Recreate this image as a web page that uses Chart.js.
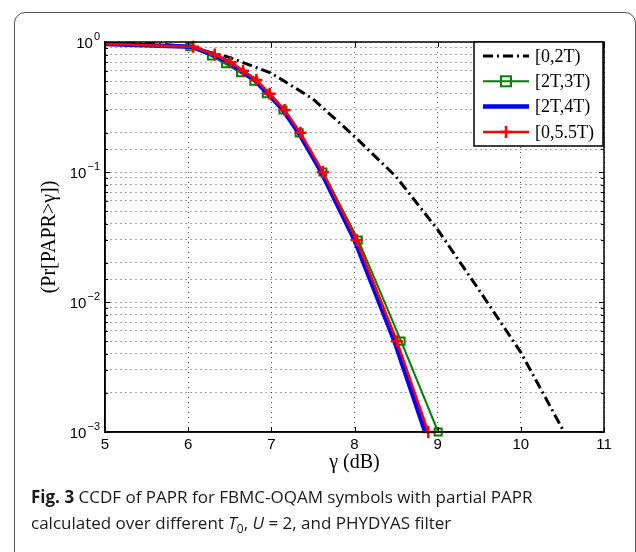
<!DOCTYPE html>
<html>
<head>
<meta charset="utf-8">
<script src="https://cdn.jsdelivr.net/npm/chart.js@4.4.1/dist/chart.umd.min.js"></script>
<style>
  html, body { margin: 0; padding: 0; background: #fff; }
  #wrap { position: relative; width: 636px; height: 552px; overflow: hidden; }
  #frame { position: absolute; left: 14px; top: 12px; width: 620px; height: 620px; border: 1.5px solid #555; border-radius: 11px; }
  #chart { position: absolute; left: 0; top: 0; }
  #caption { position: absolute; left: 31px; top: 484px; font-family: "Open Sans"; font-size: 17px; line-height: 26px; color: #1a1a1a; letter-spacing: 0px; white-space: nowrap; }
</style>
</head>
<body>
<div id="wrap">
  <div id="frame"></div>
  <canvas id="chart" width="636" height="552"></canvas>
  <div id="caption"><b>Fig. 3</b> CCDF of PAPR for FBMC-OQAM symbols with partial PAPR<br>calculated over different <i>T</i><sub style="font-size:12px">0</sub>, <i>U</i> = 2, and PHYDYAS filter</div>
</div>
<script>
// tick labels
const xTickValues = [5, 6, 7, 8, 9, 10, 11];
const yTickValues = [1, 0.1, 0.01, 0.001];
const yTickExps = ["0", "\u22121", "\u22122", "\u22123"];

// series names
const seriesNames = ["[0,2T)", "[2T,3T)", "[2T,4T)", "[0,5.5T)"];

// [0,2T) - black dash-dot
const xA = [5, 5.5, 6, 6.5, 7, 7.5, 8, 8.5, 9, 9.5, 10, 10.52];
const yA = [0.995, 0.985, 0.92, 0.76, 0.575, 0.365, 0.188, 0.092, 0.036, 0.0123, 0.0041, 0.001];

// [2T,3T) - green squares
const xB = [5, 6.02, 6.28, 6.45, 6.63, 6.79, 6.94, 7.14, 7.335, 7.62, 8.045, 8.56, 9.006];
const yB = [0.965, 0.92, 0.78, 0.68, 0.58, 0.50, 0.40, 0.30, 0.20, 0.10, 0.03, 0.005, 0.001];

// [2T,4T) - blue
const xC = [5, 6.04, 6.30, 6.49, 6.64, 6.80, 6.96, 7.14, 7.33, 7.60, 8.0, 8.48, 8.85];
const yC = [0.965, 0.92, 0.80, 0.70, 0.60, 0.51, 0.40, 0.30, 0.20, 0.10, 0.03, 0.005, 0.001];

// [0,5.5T) - red crosses
const xD = [5, 6.06, 6.32, 6.51, 6.66, 6.82, 6.98, 7.16, 7.35, 7.62, 8.025, 8.51, 8.886];
const yD = [0.965, 0.92, 0.80, 0.70, 0.60, 0.51, 0.40, 0.30, 0.20, 0.10, 0.03, 0.005, 0.001];

function pts(xs, ys) {
    return xs.map((x, i) => ({ x: x, y: ys[i] }));
}

function markerSizes(xs, r) {
    return xs.map((x, i) => (i === 0 ? 0 : r));
}

function drawMarker(ctx, kind, x, y, color) {
    ctx.save();
    ctx.setLineDash([]);
    ctx.strokeStyle = color;
    ctx.lineWidth = 2;
    if (kind === "rect") {
        ctx.strokeRect(x - 5, y - 5, 10, 10);
    } else if (kind === "cross") {
        ctx.lineWidth = 2.5;
        ctx.beginPath();
        ctx.moveTo(x - 6, y); ctx.lineTo(x + 6, y);
        ctx.moveTo(x, y - 6); ctx.lineTo(x, y + 6);
        ctx.stroke();
    }
    ctx.restore();
}

const boxPlugin = {
    id: "boxPlugin",
    afterDraw(chart) {
        const ctx = chart.ctx;
        const a = chart.chartArea;
        const xs = chart.scales.x;
        const ys = chart.scales.y;

        ctx.save();
        // inward tick marks
        ctx.strokeStyle = "#000";
        ctx.lineWidth = 1;
        xTickValues.forEach(v => {
            const px = Math.round(xs.getPixelForValue(v)) + 0.5;
            ctx.beginPath();
            ctx.moveTo(px, a.bottom); ctx.lineTo(px, a.bottom - 5);
            ctx.moveTo(px, a.top); ctx.lineTo(px, a.top + 5);
            ctx.stroke();
        });
        ys.ticks.forEach(t => {
            const py = Math.round(ys.getPixelForValue(t.value)) + 0.5;
            const major = yTickValues.indexOf(t.value) >= 0;
            const len = major ? 5 : 3;
            ctx.beginPath();
            ctx.moveTo(a.left, py); ctx.lineTo(a.left + len, py);
            ctx.moveTo(a.right, py); ctx.lineTo(a.right - len, py);
            ctx.stroke();
        });

        // axes box
        ctx.lineWidth = 1.5;
        ctx.strokeRect(a.left, a.top, a.right - a.left, a.bottom - a.top);

        // y tick labels with superscript
        ctx.fillStyle = "#000";
        yTickValues.forEach((v, i) => {
            const py = ys.getPixelForValue(v);
            ctx.font = "11px 'Liberation Sans'";
            const ew = ctx.measureText(yTickExps[i]).width;
            ctx.textAlign = "left";
            ctx.textBaseline = "alphabetic";
            const right = a.left - 5;
            ctx.font = "15px 'Liberation Sans'";
            const bw = ctx.measureText("10").width;
            const bx = right - ew - bw - 1;
            ctx.fillText("10", bx, py + 6);
            ctx.font = "11px 'Liberation Sans'";
            ctx.fillText(yTickExps[i], bx + bw + 1, py - 2);
        });

        // legend
        const bRight = a.right - 1;
        const bLeft = bRight - 129;
        const bTop = a.top;
        const bBottom = bTop + 104;
        ctx.fillStyle = "#fff";
        ctx.fillRect(bLeft, bTop, bRight - bLeft, bBottom - bTop);
        ctx.strokeStyle = "#000";
        ctx.lineWidth = 1.5;
        ctx.strokeRect(bLeft, bTop, bRight - bLeft, bBottom - bTop);
        chart.data.datasets.forEach((ds, i) => {
            const ry = bTop + 14 + i * 25.3;
            const x0 = bLeft + 9, x1 = bLeft + 55;
            ctx.save();
            ctx.strokeStyle = ds.borderColor;
            ctx.lineWidth = ds.borderWidth;
            ctx.setLineDash(ds.borderDash || []);
            ctx.beginPath();
            ctx.moveTo(x0, ry); ctx.lineTo(x1, ry);
            ctx.stroke();
            ctx.restore();
            if (ds.legendMarker) drawMarker(ctx, ds.legendMarker, (x0 + x1) / 2, ry, ds.borderColor);
            ctx.fillStyle = "#000";
            ctx.font = "18px 'Liberation Serif'";
            ctx.textAlign = "left";
            ctx.textBaseline = "middle";
            ctx.fillText(ds.label, x1 + 6, ry + 1);
        });
        ctx.restore();
    }
};

const ctx = document.getElementById("chart").getContext("2d");
new Chart(ctx, {
    type: "line",
    data: {
        datasets: [
            {
                label: seriesNames[0],
                data: pts(xA, yA),
                borderColor: "#000000",
                borderWidth: 3,
                borderDash: [10, 4, 2, 4],
                pointRadius: 0,
                tension: 0,
                order: 3
            },
            {
                label: seriesNames[1],
                data: pts(xB, yB),
                borderColor: "#008000",
                borderWidth: 2,
                pointStyle: "rect",
                pointRadius: markerSizes(xB, 5),
                pointBorderColor: "#008000",
                pointBackgroundColor: "rgba(0,0,0,0)",
                pointBorderWidth: 2,
                legendMarker: "rect",
                tension: 0,
                clip: false,
                order: 2
            },
            {
                label: seriesNames[2],
                data: pts(xC, yC),
                borderColor: "#0000ff",
                borderWidth: 4.5,
                pointRadius: 0,
                tension: 0,
                order: 1
            },
            {
                label: seriesNames[3],
                data: pts(xD, yD),
                borderColor: "#ff0000",
                borderWidth: 2.5,
                pointStyle: "cross",
                pointRadius: markerSizes(xD, 6),
                pointBorderColor: "#ff0000",
                pointBorderWidth: 2.5,
                legendMarker: "cross",
                tension: 0,
                clip: false,
                order: 0
            }
        ]
    },
    options: {
        responsive: false,
        animation: false,
        layout: { padding: { left: 0, right: 32, top: 42, bottom: 72 } },
        plugins: {
            legend: { display: false },
            tooltip: { enabled: false }
        },
        scales: {
            x: {
                type: "linear",
                min: 5,
                max: 11,
                afterBuildTicks: scale => {
                    scale.ticks = xTickValues.map(v => ({ value: v }));
                },
                afterFit: scale => { scale.height = 48; },
                grid: { color: "rgba(0,0,0,0.7)", lineWidth: 1, drawTicks: false },
                border: { display: true, color: "#000", width: 1.5, dash: [1, 4] },
                ticks: {
                    color: "#000",
                    font: { family: "'Liberation Sans'", size: 15 },
                    padding: 4,
                    maxRotation: 0
                },
                title: {
                    display: true,
                    text: "\u03b3 (dB)",
                    color: "#000",
                    font: { family: "'Liberation Serif'", size: 20 },
                    padding: { top: 0, bottom: 5 }
                }
            },
            y: {
                type: "logarithmic",
                min: 0.001,
                max: 1,
                afterFit: scale => { scale.width = 105; },
                grid: { color: "rgba(0,0,0,0.7)", lineWidth: 1, drawTicks: false },
                border: { display: true, color: "#000", width: 1.5, dash: [1, 4] },
                ticks: { display: false, autoSkip: false },
                title: {
                    display: true,
                    text: "(Pr[PAPR>\u03b3])",
                    color: "#000",
                    font: { family: "'Liberation Serif'", size: 20 },
                    padding: { top: 38, bottom: 0 }
                }
            }
        }
    },
    plugins: [boxPlugin]
});
</script>
</body>
</html>
